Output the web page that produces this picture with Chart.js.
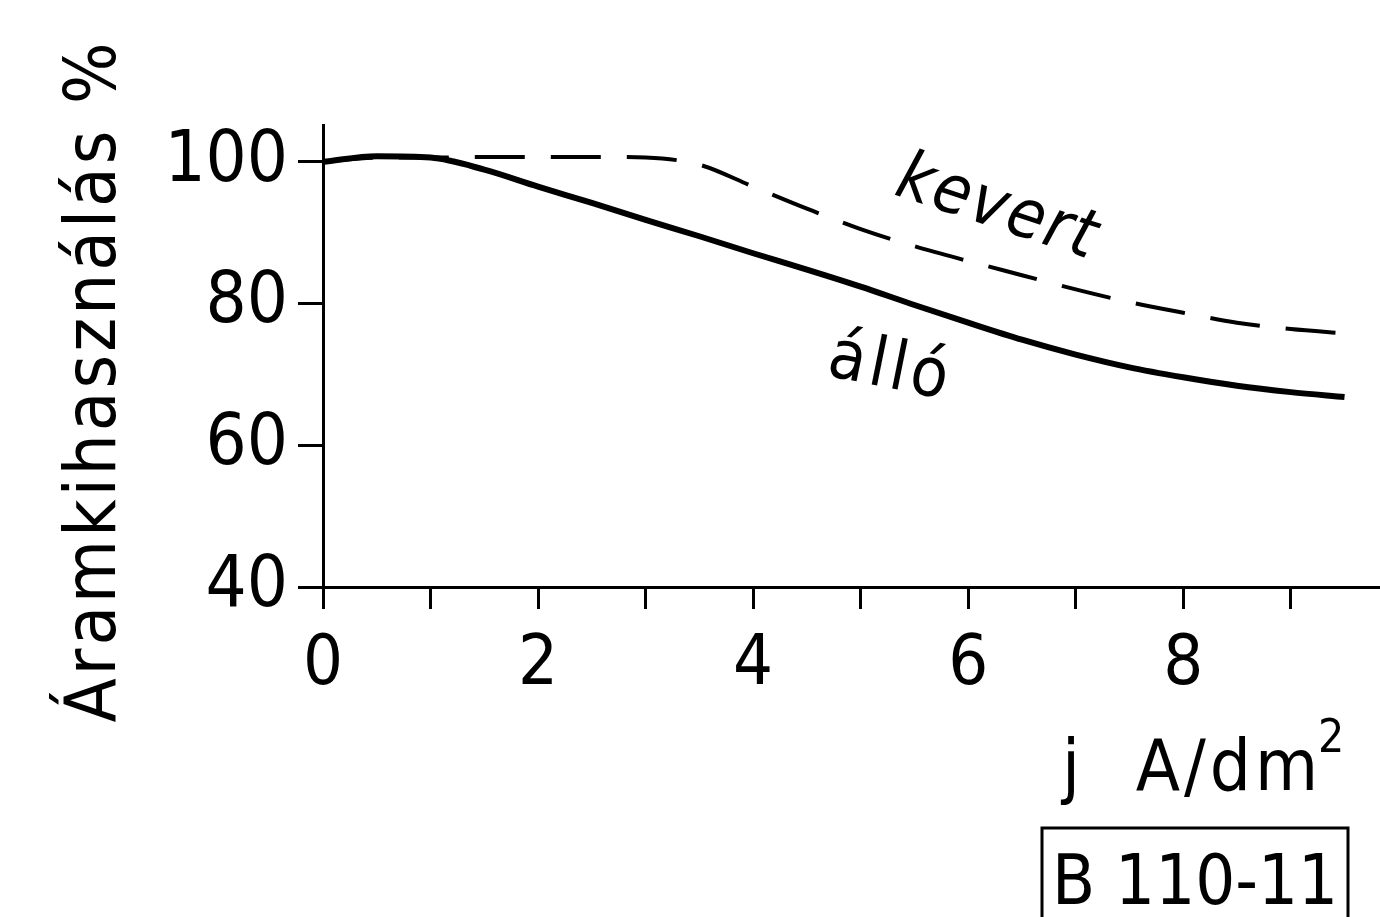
<!DOCTYPE html>
<html>
<head>
<meta charset="utf-8">
<script src="https://cdn.jsdelivr.net/npm/chart.js@4.4.0/dist/chart.umd.min.js"></script>
<style>
  html, body { margin: 0; padding: 0; background: #fff; }
  #wrap { width: 1380px; height: 917px; }
</style>
</head>
<body>
<div id="wrap"><canvas id="effChart"></canvas></div>
<script>
// current density j (A/dm2)
const jValues = [0, 0.5, 1, 1.5, 2, 2.5, 3, 3.5, 4, 4.5, 5, 5.5, 6, 6.5, 7, 7.5, 8, 8.5, 9, 9.5];
// current efficiency %, still bath ("álló")
const alloValues = [100, 100.8, 100.6, 98.9, 96.5, 94.2, 91.8, 89.5, 87.1, 84.8, 82.4, 79.8, 77.3, 74.9, 72.8, 71, 69.6, 68.4, 67.5, 66.8];
// current efficiency %, stirred bath ("kevert")
const kevertValues = [100, 100.6, 100.6, 100.7, 100.7, 100.7, 100.6, 99.6, 96.5, 93.4, 90.5, 88.1, 86, 84, 82, 80.2, 78.7, 77.3, 76.4, 75.8];

const xTickLabels = [0, 2, 4, 6, 8];
const yTickLabels = [40, 60, 80, 100];

const FONT = '"DejaVu Sans Condensed", "DejaVu Sans", sans-serif';

const toPoints = vals => vals.map((v, i) => ({ x: jValues[i], y: v }));

// hand-lettered annotations of the original figure
const notes = {
  id: 'notes',
  afterDraw(chart) {
    const c = chart.ctx;
    c.save();
    c.fillStyle = '#000';
    c.strokeStyle = '#000';

    // y axis title
    c.save();
    c.translate(115, 381);
    c.rotate(-Math.PI / 2);
    c.font = '72px ' + FONT;
    c.letterSpacing = '3px';
    c.textAlign = 'center';
    c.textBaseline = 'alphabetic';
    c.fillText('Áramkihasználás %', 0, 0);
    c.restore();

    // curve labels
    c.save();
    c.translate(997, 210);
    c.rotate(0.32);
    c.font = 'italic 68px ' + FONT;
    c.letterSpacing = '2px';
    c.textAlign = 'center';
    c.textBaseline = 'middle';
    c.fillText('kevert', 0, 0);
    c.restore();

    c.save();
    c.translate(890, 370);
    c.rotate(0.2);
    c.font = '68px ' + FONT;
    c.letterSpacing = '4px';
    c.textAlign = 'center';
    c.textBaseline = 'middle';
    c.fillText('álló', 0, 0);
    c.restore();

    // x axis title
    c.save();
    c.font = '72px ' + FONT;
    c.textBaseline = 'alphabetic';
    c.textAlign = 'left';
    c.fillText('j', 1062, 790);
    c.letterSpacing = '4px';
    c.textAlign = 'right';
    c.fillText('A/dm', 1322, 790);
    c.letterSpacing = '0px';
    c.font = '46px ' + FONT;
    c.textAlign = 'left';
    c.fillText('2', 1318, 752);
    c.restore();

    // figure code box
    c.lineWidth = 3;
    c.strokeRect(1042, 828, 306, 100);
    c.font = '70px ' + FONT;
    c.textAlign = 'center';
    c.textBaseline = 'alphabetic';
    c.fillText('B 110-11', 1195, 904);

    c.restore();
  }
};

new Chart(document.getElementById('effChart'), {
  type: 'line',
  data: {
    datasets: [{
      label: 'álló',
      data: toPoints(alloValues),
      borderColor: '#000',
      borderWidth: 6,
      pointRadius: 0,
      cubicInterpolationMode: 'monotone',
      fill: false
    }, {
      label: 'kevert',
      data: toPoints(kevertValues),
      borderColor: '#000',
      borderWidth: 4,
      borderDash: [50, 26],
      pointRadius: 0,
      cubicInterpolationMode: 'monotone',
      fill: false
    }]
  },
  options: {
    responsive: true,
    maintainAspectRatio: false,
    animation: false,
    layout: { padding: { left: 0, right: 0, top: 125, bottom: 0 } },
    plugins: { legend: { display: false }, tooltip: { enabled: false } },
    scales: {
      x: {
        type: 'linear',
        min: 0,
        max: 9.83,
        border: { display: true, color: '#000', width: 3 },
        grid: { drawOnChartArea: false, drawTicks: true, tickLength: 22, color: '#000', lineWidth: 3 },
        ticks: {
          stepSize: 1,
          includeBounds: false,
          autoSkip: false,
          maxRotation: 0,
          padding: 15,
          color: '#000',
          font: { family: FONT, size: 70 },
          callback: v => xTickLabels.includes(v) ? String(v) : ''
        },
        afterFit: s => { s.height = 330; }
      },
      y: {
        min: 40,
        max: 105.2,
        border: { display: true, color: '#000', width: 3 },
        grid: { drawOnChartArea: false, drawTicks: true, tickLength: 25, color: '#000', lineWidth: 3 },
        ticks: {
          stepSize: 20,
          includeBounds: false,
          padding: 10,
          color: '#000',
          font: { family: FONT, size: 72 },
          callback: v => yTickLabels.includes(v) ? String(v) : ''
        },
        afterFit: s => { s.width = 323; }
      }
    }
  },
  plugins: [notes]
});
</script>
</body>
</html>
